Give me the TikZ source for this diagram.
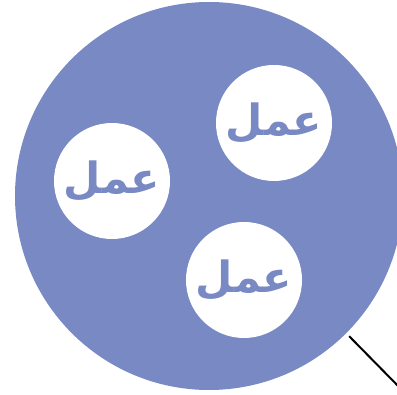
\documentclass[tikz,border=0pt]{standalone}
\usepackage{fontspec}
\newfontfamily\arabicfont[Script=Arabic]{DejaVu Sans}
\TeXXeTstate=1
\definecolor{poolblue}{RGB}{120,137,196}
\tikzset{
    pool/.style={shape=circle, fill=poolblue, minimum size=388pt, inner sep=0pt},
    task/.style={shape=circle, fill=white, minimum size=116pt, inner sep=0pt, text=poolblue, font=\arabicfont\bfseries\fontsize{43}{45}\selectfont}
}
\begin{document}
\begin{tikzpicture}[x=1pt, y=-1pt]
    \useasboundingbox (0,0) rectangle (397,395);
    \node[name=pool, pool] at (209,196) {};
    \node[name=taskA, task] at (274,123) {\beginR عمل\endR};
    \node[name=taskB, task] at (112,181) {\beginR عمل\endR};
    \node[name=taskC, task] at (244,280) {\beginR عمل\endR};
    \coordinate (tail) at (405,393);
    \draw[black, line width=2pt, shorten <=4pt] (pool.-45.6) -- (tail);
\end{tikzpicture}
\end{document}
